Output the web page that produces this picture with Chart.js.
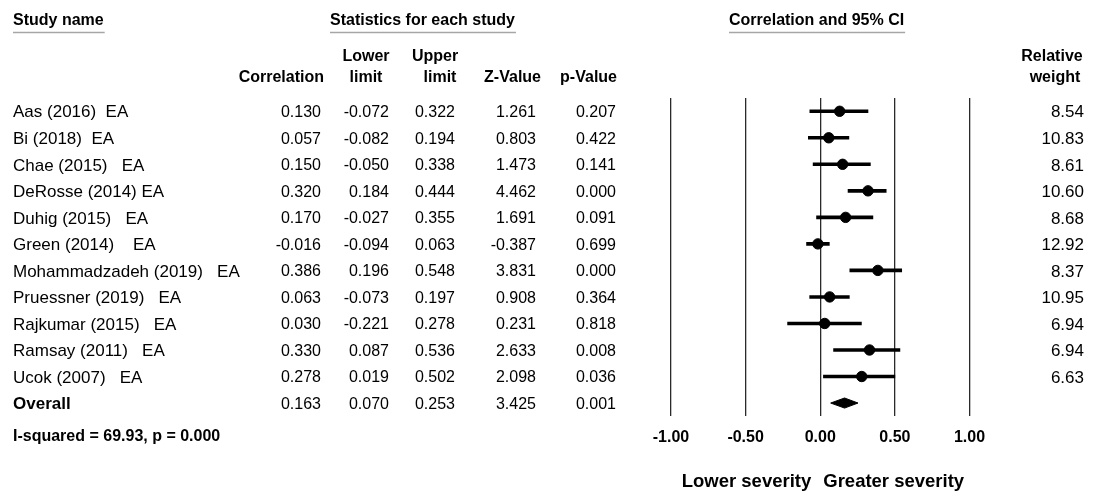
<!DOCTYPE html>
<html>
<head>
<meta charset="utf-8">
<script src="https://cdn.jsdelivr.net/npm/chart.js@4/dist/chart.umd.min.js"></script>
<style>
  html, body { margin: 0; padding: 0; background: #fff; }
  #wrap { width: 1096px; height: 495px; }
</style>
</head>
<body>
<div id="wrap"><canvas id="forest" width="1096" height="495"></canvas></div>
<script>
// Study rows (the last row is the pooled estimate)
const studies = [
  'Aas (2016)  EA',
  'Bi (2018)  EA',
  'Chae (2015)   EA',
  'DeRosse (2014) EA',
  'Duhig (2015)   EA',
  'Green (2014)    EA',
  'Mohammadzadeh (2019)   EA',
  'Pruessner (2019)   EA',
  'Rajkumar (2015)   EA',
  'Ramsay (2011)   EA',
  'Ucok (2007)   EA',
  'Overall'
];
const correlation = [0.130, 0.057, 0.150, 0.320, 0.170, -0.016, 0.386, 0.063, 0.030, 0.330, 0.278, 0.163];
const lowerLimit  = [-0.072, -0.082, -0.050, 0.184, -0.027, -0.094, 0.196, -0.073, -0.221, 0.087, 0.019, 0.070];
const upperLimit  = [0.322, 0.194, 0.338, 0.444, 0.355, 0.063, 0.548, 0.197, 0.278, 0.536, 0.502, 0.253];
const zValue      = [1.261, 0.803, 1.473, 4.462, 1.691, -0.387, 3.831, 0.908, 0.231, 2.633, 2.098, 3.425];
const pValue      = [0.207, 0.422, 0.141, 0.000, 0.091, 0.699, 0.000, 0.364, 0.818, 0.008, 0.036, 0.001];
const relWeight   = [8.54, 10.83, 8.61, 10.60, 8.68, 12.92, 8.37, 10.95, 6.94, 6.94, 6.63];
const xTicks      = [-1.00, -0.50, 0.00, 0.50, 1.00];
const heterogeneity = 'I-squared = 69.93, p = 0.000';

const FONT = '"Liberation Sans", Arial, sans-serif';
const nStudies = relWeight.length;
const overallIdx = studies.length - 1;
const DIAMOND_HALF = 0.19; // half-height of the pooled diamond, in row units

// Confidence-interval segments, one line dataset per study
const ciSets = [];
for (let i = 0; i < nStudies; i++) {
  ciSets.push({
    type: 'line',
    data: [{ x: lowerLimit[i], y: i }, { x: upperLimit[i], y: i }],
    borderColor: '#000',
    borderWidth: 3.6,
    pointRadius: 0,
    fill: false,
    order: 2
  });
}

// Point estimates
const pointSet = {
  type: 'scatter',
  data: correlation.slice(0, nStudies).map((c, i) => ({ x: c, y: i })),
  backgroundColor: '#000',
  borderColor: '#000',
  pointRadius: 5.2,
  pointHoverRadius: 5.2,
  order: 1
};

// Pooled estimate diamond
const o = overallIdx;
const diamondSet = {
  type: 'line',
  data: [
    { x: lowerLimit[o], y: o },
    { x: correlation[o], y: o - DIAMOND_HALF },
    { x: upperLimit[o], y: o },
    { x: correlation[o], y: o + DIAMOND_HALF },
    { x: lowerLimit[o], y: o }
  ],
  borderColor: '#000',
  backgroundColor: '#000',
  borderWidth: 1,
  pointRadius: 0,
  tension: 0,
  fill: 'shape',
  order: 1
};

// Table columns drawn beside the plot
const columns = [
  { values: correlation, right: 321, digits: 3 },
  { values: lowerLimit,  right: 389, digits: 3 },
  { values: upperLimit,  right: 455, digits: 3 },
  { values: zValue,      right: 536, digits: 3 },
  { values: pValue,      right: 616, digits: 3 }
];

function underlined(ctx, text, x, y) {
  ctx.textAlign = 'left';
  ctx.fillText(text, x, y);
  const w = ctx.measureText(text).width;
  ctx.save();
  ctx.strokeStyle = '#a6a6a6';
  ctx.lineWidth = 1.6;
  ctx.beginPath();
  ctx.moveTo(x, 32.5);
  ctx.lineTo(x + w + 1, 32.5);
  ctx.stroke();
  ctx.restore();
}

const tablePlugin = {
  id: 'forestTable',
  afterDraw(chart) {
    const ctx = chart.ctx;
    const yScale = chart.scales.y;
    const xScale = chart.scales.x;
    ctx.save();
    ctx.fillStyle = '#000';
    ctx.textBaseline = 'middle';

    // Header row
    ctx.font = 'bold 16px ' + FONT;
    underlined(ctx, 'Study name', 13, 21);
    underlined(ctx, 'Statistics for each study', 330, 21);
    underlined(ctx, 'Correlation and 95% CI', 729, 21);

    ctx.textAlign = 'center';
    ctx.fillText('Lower', 366, 57);
    ctx.fillText('limit', 366, 78);
    ctx.fillText('Upper', 435, 57);
    ctx.fillText('limit', 440, 78);
    ctx.fillText('Relative', 1052, 57);
    ctx.fillText('weight', 1055, 78);
    ctx.textAlign = 'right';
    ctx.fillText('Correlation', 324, 78);
    ctx.fillText('Z-Value', 541, 78);
    ctx.fillText('p-Value', 617, 78);

    // Body rows
    for (let i = 0; i < studies.length; i++) {
      const y = yScale.getPixelForValue(i) + 1.5;
      ctx.font = (i === overallIdx ? 'bold ' : '') + '17px ' + FONT;
      ctx.textAlign = 'left';
      ctx.fillText(studies[i], 13, y);
      ctx.font = '16px ' + FONT;
      ctx.textAlign = 'right';
      columns.forEach(col => ctx.fillText(col.values[i].toFixed(col.digits), col.right, y));
      if (i < relWeight.length) {
        ctx.font = '17px ' + FONT;
        ctx.fillText(relWeight[i].toFixed(2), 1084, y);
      }
    }

    // Heterogeneity note
    ctx.font = 'bold 16px ' + FONT;
    ctx.textAlign = 'left';
    ctx.fillText(heterogeneity, 13, 437);

    // Direction captions under the axis
    const zeroX = xScale.getPixelForValue(0);
    ctx.font = 'bold 18.5px ' + FONT;
    ctx.textAlign = 'right';
    ctx.fillText('Lower severity', zeroX - 9, 482);
    ctx.textAlign = 'left';
    ctx.fillText('Greater severity', zeroX + 3, 482);
    ctx.restore();
  }
};

new Chart(document.getElementById('forest'), {
  data: { datasets: [...ciSets, pointSet, diamondSet] },
  options: {
    responsive: false,
    animation: false,
    events: [],
    layout: { padding: { left: 671, right: 126.5, top: 98, bottom: 35.5 } },
    plugins: { legend: { display: false }, tooltip: { enabled: false } },
    scales: {
      x: {
        type: 'linear',
        min: xTicks[0],
        max: xTicks[xTicks.length - 1],
        afterBuildTicks(scale) { scale.ticks = xTicks.map(v => ({ value: v })); },
        grid: { color: '#2a2a2a', lineWidth: 1.3, drawTicks: false },
        border: { display: false },
        ticks: {
          padding: 12,
          color: '#000',
          font: { family: FONT, size: 16, weight: 'bold' },
          maxRotation: 0,
          callback: v => Number(v).toFixed(2)
        }
      },
      y: {
        type: 'linear',
        display: false,
        reverse: true,
        min: -0.5,
        max: studies.length - 0.5
      }
    }
  },
  plugins: [tablePlugin]
});
</script>
</body>
</html>
